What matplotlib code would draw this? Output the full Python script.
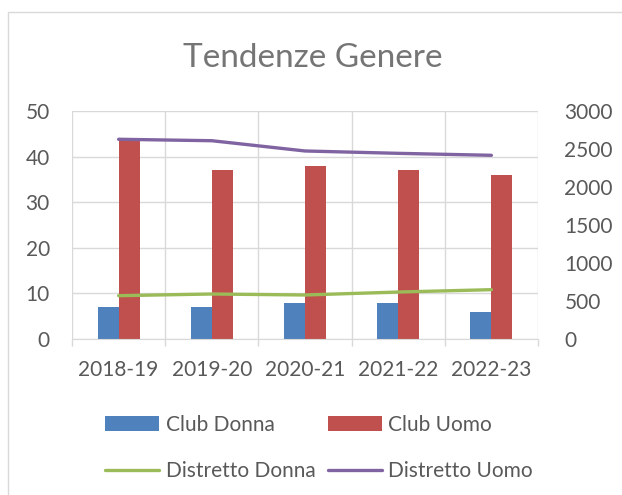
import matplotlib
matplotlib.use("Agg")
import matplotlib.pyplot as plt
import numpy as np
from matplotlib.patches import Rectangle

# data
seasons = ["2018-19", "2019-20", "2020-21", "2021-22", "2022-23"]
club_donna = [7, 7, 8, 8, 6]
club_uomo = [44, 37, 38, 37, 36]
distretto_donna = [570, 592, 579, 618, 649]
distretto_uomo = [2628, 2609, 2474, 2443, 2417]

blue = "#4F81BD"
red = "#C0504D"
green = "#9BBB59"
purple = "#8064A2"
grid_col = "#D9D9D9"
text_col = "#595959"

plt.rcParams['font.family'] = ['Lato', 'DejaVu Sans']

fig = plt.figure(figsize=(6.22, 4.95), dpi=100)
# chart area border (only left and top edges are inside the picture)
fig.patches.append(Rectangle((8 / 622, -0.1), 1.2, (495 - 12) / 495 + 0.1,
                             transform=fig.transFigure, fill=False,
                             edgecolor=grid_col, linewidth=1.0))

ax = fig.add_axes([72 / 622, (495 - 339) / 495, (538 - 72) / 622, (339 - 111) / 495])
x = np.arange(len(seasons))
w = 0.225
b1 = ax.bar(x - w / 2, club_donna, w, color=blue, label="Club Donna", zorder=2)
b2 = ax.bar(x + w / 2, club_uomo, w, color=red, label="Club Uomo", zorder=2)

ax.set_xlim(-0.5, len(seasons) - 0.5)
ax.set_ylim(0, 50)
ax.set_yticks(range(0, 51, 10))
ax.set_xticks(x)
ax.set_xticklabels(seasons)
ax.set_xticks(np.arange(-0.5, len(seasons)), minor=True)
ax.set_axisbelow(True)
ax.grid(axis="y", color=grid_col, linewidth=1.0)
ax.grid(axis="x", which="minor", color=grid_col, linewidth=1.0)
for s in ax.spines.values():
    s.set_visible(False)
ax.spines["bottom"].set_visible(True)
ax.spines["bottom"].set_color(grid_col)
ax.tick_params(axis="x", which="major", length=0, pad=15, labelsize=15, labelcolor=text_col)
ax.tick_params(axis="x", which="minor", length=5, color=grid_col, width=1.0)
ax.tick_params(axis="y", length=0, pad=16, labelsize=15, labelcolor=text_col)

ax2 = ax.twinx()
l1, = ax2.plot(x, distretto_donna, color=green, linewidth=2.4, solid_capstyle="round", label="Distretto Donna")
l2, = ax2.plot(x, distretto_uomo, color=purple, linewidth=2.4, solid_capstyle="round", label="Distretto Uomo")
ax2.set_ylim(0, 3000)
ax2.set_yticks(range(0, 3001, 500))
for s in ax2.spines.values():
    s.set_visible(False)
ax2.tick_params(axis="y", length=0, pad=19, labelsize=15, labelcolor=text_col)

fig.text(313 / 622, 1 - 58 / 495, "Tendenze Genere", ha="center", va="center",
         fontsize=24, color="#757575")

fig.legend([b1, l1, b2, l2], ["Club Donna", "Distretto Donna", "Club Uomo", "Distretto Uomo"],
           ncol=2, loc="center", bbox_to_anchor=(319 / 622, 1 - 448 / 495), frameon=False,
           fontsize=15, labelcolor=text_col, handlelength=2.6, handleheight=0.7,
           handletextpad=0.3, columnspacing=0.6, labelspacing=1.25)

fig.savefig("out.png", dpi=100)
